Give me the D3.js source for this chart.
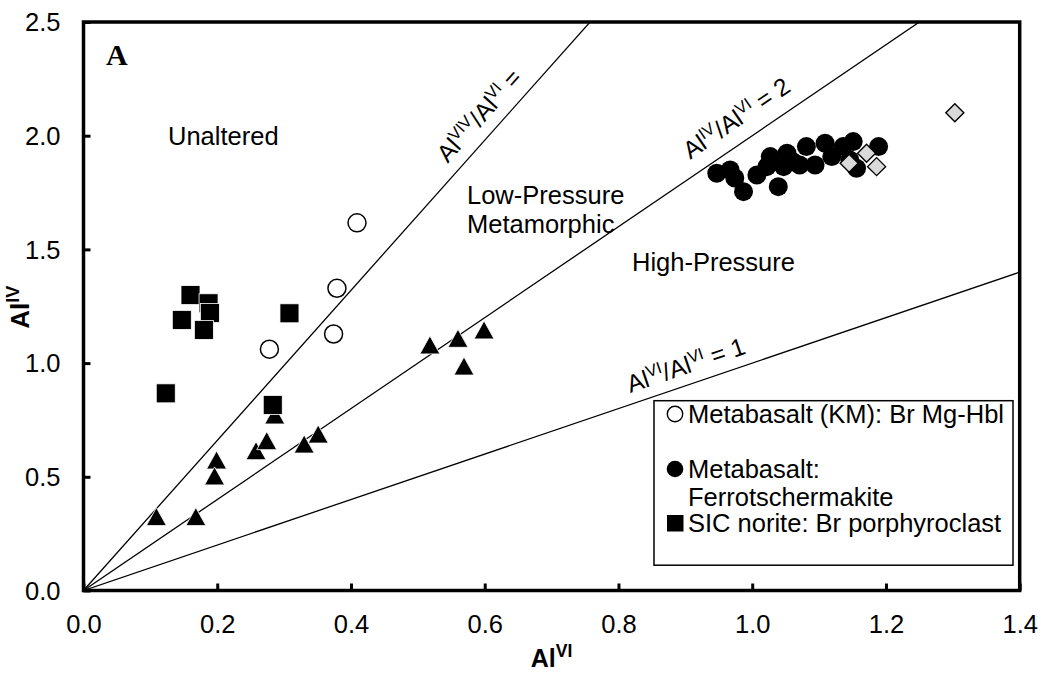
<!DOCTYPE html>
<html>
<head>
<meta charset="utf-8">
<script src="https://cdn.jsdelivr.net/npm/d3@7"></script>
<style>
  html, body { margin: 0; padding: 0; background: #fff; }
  svg { display: block; }
  text { font-family: Arial, "Liberation Sans", sans-serif; fill: #000; }
</style>
</head>
<body>
<svg id="chart" width="1041" height="673"></svg>
<script>
// ---------------- data ----------------
const xTicks = [0, 0.2, 0.4, 0.6, 0.8, 1.0, 1.2, 1.4];
const yTicks = [0, 0.5, 1.0, 1.5, 2.0, 2.5];

// Metabasalt (KM): Br Mg-Hbl (open circles)
const kmX = [0.278, 0.374, 0.379, 0.409];
const kmY = [1.061, 1.128, 1.329, 1.617];

// Metabasalt: Ferrotschermakite (filled circles)
const ftsX = [0.947, 0.967, 0.974, 0.987, 1.007, 1.022, 1.027, 1.039, 1.047, 1.052, 1.061,
              1.071, 1.081, 1.094, 1.109, 1.119, 1.136, 1.146, 1.151, 1.156, 1.189];
const ftsY = [1.835, 1.849, 1.814, 1.754, 1.827, 1.864, 1.908, 1.776, 1.864, 1.923, 1.885,
              1.871, 1.952, 1.871, 1.967, 1.908, 1.952, 1.893, 1.974, 1.857, 1.952];

// SIC norite: Br porphyroclast (filled squares)
const sicX = [0.123, 0.283, 0.160, 0.187, 0.189, 0.147, 0.180, 0.308];
const sicY = [0.867, 0.816, 1.299, 1.263, 1.220, 1.190, 1.146, 1.219];

// triangles (unlabelled series)
const triX = [0.109, 0.168, 0.199, 0.196, 0.258, 0.274, 0.286, 0.330, 0.351, 0.518, 0.560, 0.599, 0.569];
const triY = [0.325, 0.325, 0.574, 0.504, 0.615, 0.659, 0.772, 0.644, 0.688, 1.080, 1.109, 1.146, 0.987];

// grey diamonds (unlabelled series)
const diaX = [1.303, 1.171, 1.145, 1.186];
const diaY = [2.101, 1.923, 1.879, 1.864];

// reference ratio lines AlIV/AlVI
const ratioSlopes = [3.3, 2, 1];
const ratioLabelAt = [0.558, 0.920, 0.823];
const ratioLabels = [
  [["Al", 0], ["VIV", 1], ["/Al", 0], ["VI", 1], [" =", 0]],
  [["Al", 0], ["IV", 1], ["/Al", 0], ["VI", 1], [" = 2", 0]],
  [["Al", 0], ["VI", 1], ["/Al", 0], ["VI", 1], [" = 1", 0]]
];

const legendNames = [["Metabasalt (KM): Br Mg-Hbl"], ["Metabasalt:", "Ferrotschermakite"], ["SIC norite: Br porphyroclast"]];

// ---------------- layout ----------------
const svg = d3.select("#chart");
const X0 = 83.5, X1 = 1019.7, Y0 = 590.5, Y1 = 22;
const x = d3.scaleLinear().domain([0, 1.4]).range([X0, X1]);
const y = d3.scaleLinear().domain([0, 2.5]).range([Y0, Y1]);
const FS = 25.5;

svg.append("defs").append("clipPath").attr("id", "plotclip")
  .append("rect").attr("x", X0).attr("y", Y1).attr("width", X1 - X0).attr("height", Y0 - Y1);

// reference lines
const gl = svg.append("g").attr("clip-path", "url(#plotclip)");
ratioSlopes.forEach(s => {
  gl.append("line")
    .attr("x1", x(0)).attr("y1", y(0))
    .attr("x2", x(3)).attr("y2", y(3 * s))
    .attr("stroke", "#000").attr("stroke-width", 1.3);
});

function richText(sel, parts, size, supSize, weight) {
  const t = sel.append("text").attr("font-size", size);
  if (weight) t.attr("font-weight", weight);
  let up = false;
  const shift = Math.round(size * 0.38);
  parts.forEach(([s, sup]) => {
    const ts = t.append("tspan").text(s);
    if (sup) {
      ts.attr("font-size", supSize);
      if (!up) { ts.attr("dy", -shift); up = true; }
    } else if (up) {
      ts.attr("dy", shift); up = false;
    }
  });
  return t;
}

// line labels
const offsets = [12, 15, 11];
ratioSlopes.forEach((s, i) => {
  const v = ratioLabelAt[i];
  const ang = Math.atan2(y(0) - y(s), x(1) - x(0)) * 180 / Math.PI;
  const g = svg.append("g")
    .attr("transform", `translate(${x(v)},${y(v * s)}) rotate(${-ang})`);
  richText(g, ratioLabels[i], 24.5, 16.5).attr("x", 0).attr("y", -offsets[i]);
});

// region labels
svg.append("text").attr("x", 168).attr("y", 145).attr("font-size", FS).text("Unaltered");
svg.append("text").attr("x", 467).attr("y", 204).attr("font-size", FS).text("Low-Pressure");
svg.append("text").attr("x", 467).attr("y", 233).attr("font-size", FS).text("Metamorphic");
svg.append("text").attr("x", 632).attr("y", 271).attr("font-size", FS).text("High-Pressure");
svg.append("text").attr("x", 106).attr("y", 65).attr("font-size", 30)
  .attr("font-weight", "bold").style("font-family", "'Liberation Serif','Times New Roman',serif").text("A");

// markers
const R = 9.5;
const gm = svg.append("g");
gm.selectAll("circle.km").data(kmX.map((d, i) => [d, kmY[i]])).join("circle")
  .attr("cx", d => x(d[0])).attr("cy", d => y(d[1])).attr("r", R - 0.5)
  .attr("fill", "#fff").attr("stroke", "#000").attr("stroke-width", 1.5);

gm.selectAll("path.tri").data(triX.map((d, i) => [d, triY[i]])).join("path")
  .attr("d", d => {
    const cx = x(d[0]), cy = y(d[1]), w = 10, h = 9;
    return `M${cx},${cy - h}L${cx + w},${cy + h}L${cx - w},${cy + h}Z`;
  })
  .attr("fill", "#000").attr("stroke", "#fff").attr("stroke-width", 0.8);

gm.selectAll("rect.sic").data(sicX.map((d, i) => [d, sicY[i]])).join("rect")
  .attr("x", d => x(d[0]) - 9.5).attr("y", d => y(d[1]) - 9.5)
  .attr("width", 19).attr("height", 19)
  .attr("fill", "#000").attr("stroke", "#fff").attr("stroke-width", 0.8);

gm.selectAll("circle.fts").data(ftsX.map((d, i) => [d, ftsY[i]])).join("circle")
  .attr("cx", d => x(d[0])).attr("cy", d => y(d[1])).attr("r", R)
  .attr("fill", "#000");

gm.selectAll("path.dia").data(diaX.map((d, i) => [d, diaY[i]])).join("path")
  .attr("d", d => {
    const cx = x(d[0]), cy = y(d[1]), r = 9;
    return `M${cx},${cy - r}L${cx + r},${cy}L${cx},${cy + r}L${cx - r},${cy}Z`;
  })
  .attr("fill", "#d9d9d9").attr("stroke", "#000").attr("stroke-width", 1.4);

// axes (ticks inside)
const fmt = d3.format(".1f");
const ax = svg.append("g").attr("transform", `translate(0,${Y0})`)
  .call(d3.axisBottom(x).tickValues(xTicks).tickFormat(fmt).tickSizeInner(-7).tickSizeOuter(0).tickPadding(24));
const ay = svg.append("g").attr("transform", `translate(${X0},0)`)
  .call(d3.axisLeft(y).tickValues(yTicks).tickFormat(fmt).tickSizeInner(-7).tickSizeOuter(0).tickPadding(23));
[ax, ay].forEach(a => {
  a.select(".domain").remove();
  a.selectAll(".tick line").attr("stroke", "#000").attr("stroke-width", 3);
  a.selectAll(".tick text").attr("font-size", FS)
    .style("font-family", "Arial, 'Liberation Sans', sans-serif").attr("fill", "#000");
});
ay.selectAll(".tick text").attr("dy", "0.34em");

// frame
svg.append("rect").attr("x", X0).attr("y", Y1).attr("width", X1 - X0).attr("height", Y0 - Y1)
  .attr("fill", "none").attr("stroke", "#000").attr("stroke-width", 3.5);

// axis titles
richText(svg, [["Al", 0], ["VI", 1]], 25, 17.5, "bold")
  .attr("x", (X0 + X1) / 2).attr("y", 667).attr("text-anchor", "middle");
const gy = svg.append("g").attr("transform", `translate(29,${(Y0 + Y1) / 2 + 1}) rotate(-90)`);
richText(gy, [["Al", 0], ["IV", 1]], 26, 18, "bold").attr("x", 0).attr("y", 0).attr("text-anchor", "middle");

// legend
const lg = svg.append("g");
lg.append("rect").attr("x", 654).attr("y", 400.7).attr("width", 359).attr("height", 164.5)
  .attr("fill", "#fff").attr("stroke", "#000").attr("stroke-width", 1.5);
lg.append("circle").attr("cx", 675).attr("cy", 414).attr("r", 7.7)
  .attr("fill", "#fff").attr("stroke", "#000").attr("stroke-width", 1.4);
lg.append("text").attr("x", 688).attr("y", 423).attr("font-size", FS).text(legendNames[0][0]);
lg.append("circle").attr("cx", 675).attr("cy", 469).attr("r", 8.3).attr("fill", "#000");
lg.append("text").attr("x", 688).attr("y", 478).attr("font-size", FS).text(legendNames[1][0]);
lg.append("text").attr("x", 688).attr("y", 506).attr("font-size", FS).text(legendNames[1][1]);
lg.append("rect").attr("x", 667).attr("y", 515).attr("width", 16.5).attr("height", 16.5).attr("fill", "#000");
lg.append("text").attr("x", 688).attr("y", 532).attr("font-size", FS).text(legendNames[2][0]);
</script>
</body>
</html>
